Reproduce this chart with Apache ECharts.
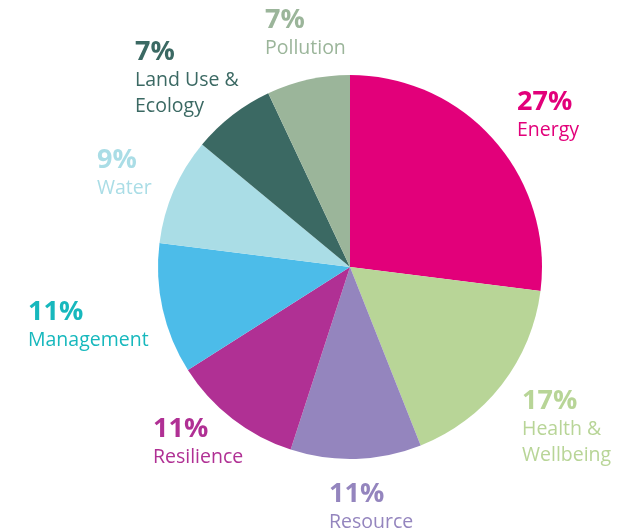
<!DOCTYPE html>
<html><head><meta charset="utf-8">
<script src="https://cdn.jsdelivr.net/npm/echarts@6/dist/echarts.min.js"></script>
<style>html,body{margin:0;padding:0;background:#fff}#c{width:631px;height:531px}</style>
</head><body><div id="c"></div>
<script>
const categories = ['Energy','Health &\nWellbeing','Resource','Resilience','Management','Water','Land Use &\nEcology','Pollution'];
const values = [27,17,11,11,11,9,7,7];
const sliceColors = ['#E2007A','#B8D597','#9485BE','#B03094','#4CBCE9','#AADDE6','#3B6963','#9BB59A'];
const labelColors = ['#E2007A','#B8D597','#9485BE','#B03094','#17B8BD','#AADDE6','#3B6963','#9BB59A'];
const labelPos = [[517,88],[522,387],[329,480],[153,415],[28,298],[97,146],[135,38],[265,6]];

const chart = echarts.init(document.getElementById('c'));
chart.setOption({
  animation:false,
  series:[{
    type:'pie',
    center:[350,267],
    radius:[0,192],
    startAngle:90,
    clockwise:true,
    data: categories.map((n,i)=>({
      name:n, value:values[i],
      itemStyle:{color:sliceColors[i]},
      label:{color:labelColors[i]}
    })),
    label:{
      show:true,
      formatter: p => '{pct|' + p.value + '%}\n{name|' + p.name.split('\n').join('}\n{name|') + '}',
      align:'left',
      overflow:'none',
      width:200,
      fontFamily:'Open Sans',
      rich:{
        pct:{fontSize:27,fontWeight:'bold',lineHeight:29,fontFamily:'Open Sans'},
        name:{fontSize:19.5,lineHeight:26,fontFamily:'Open Sans'}
      }
    },
    labelLine:{show:false},
    labelLayout: p => ({x:labelPos[p.dataIndex][0], y:labelPos[p.dataIndex][1], align:'left', verticalAlign:'top'}),
    emphasis:{disabled:true}
  }]
});
</script></body></html>
